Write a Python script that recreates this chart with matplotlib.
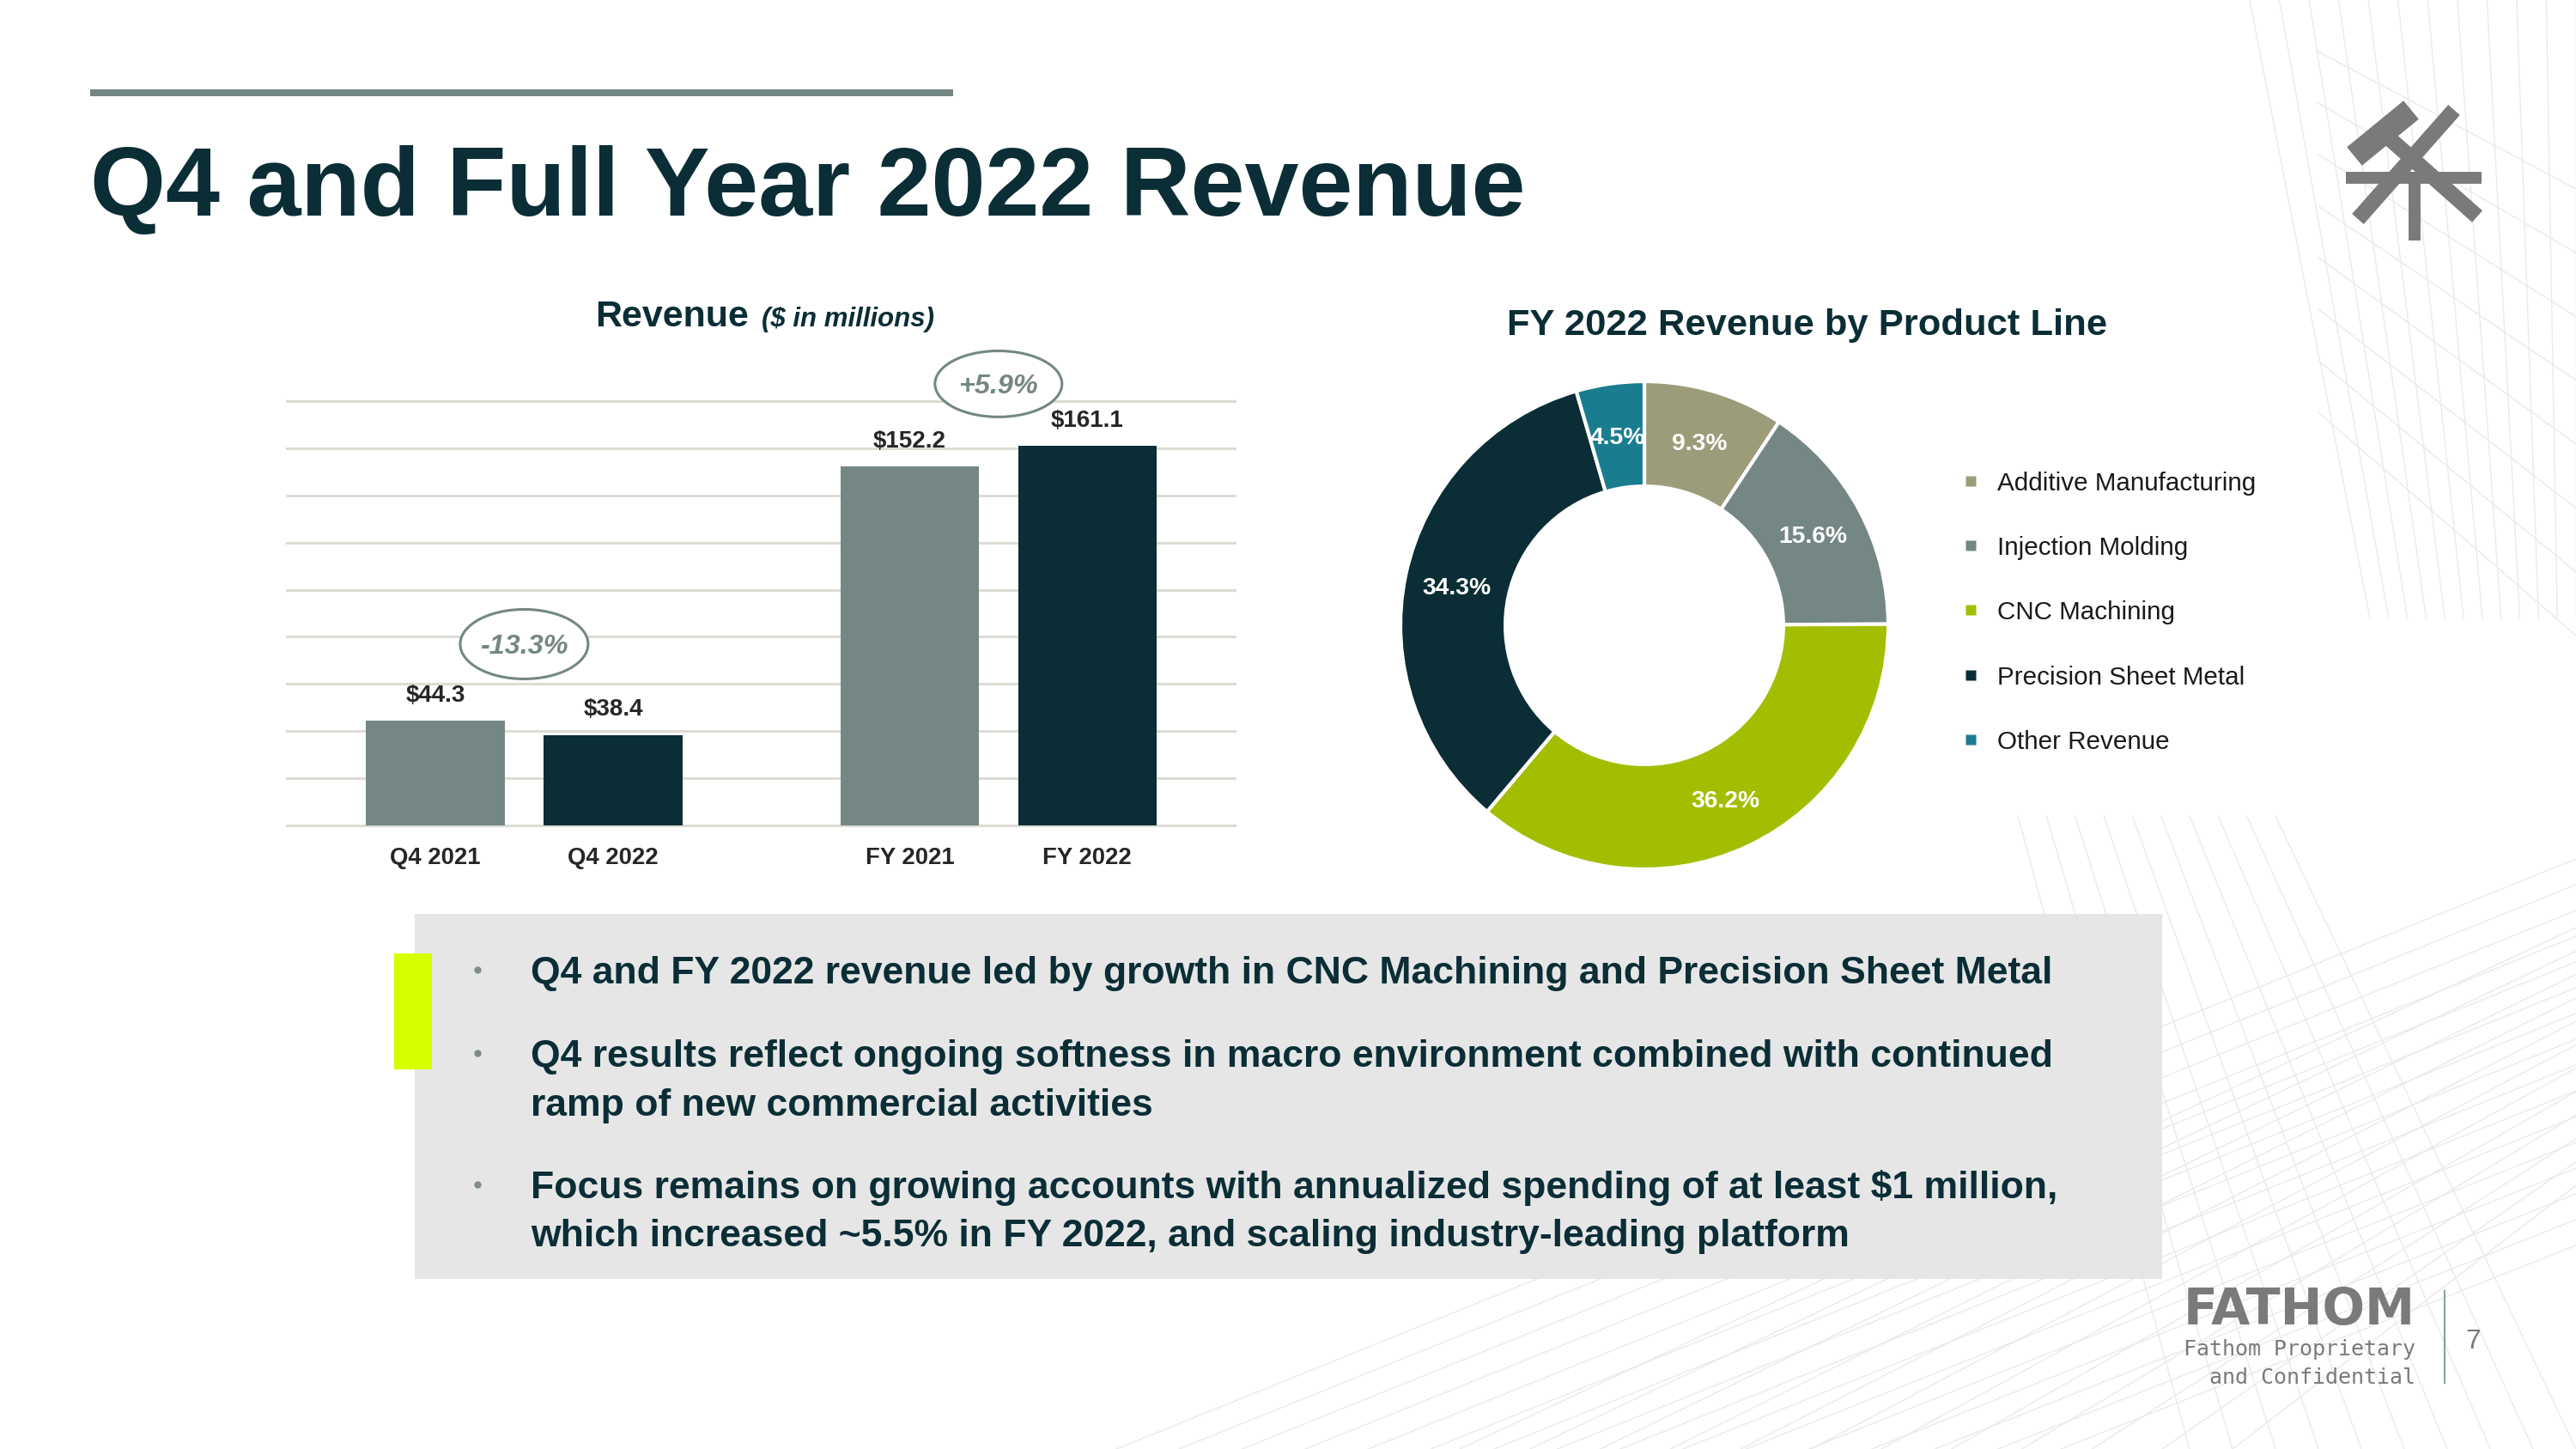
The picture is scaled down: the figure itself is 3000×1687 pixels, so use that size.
import numpy as np
import matplotlib
matplotlib.use("Agg")
import matplotlib.pyplot as plt
from matplotlib.patches import Rectangle, Ellipse

plt.rcParams['font.family'] = ['Liberation Sans', 'DejaVu Sans']

# ---------------- data ----------------
bar_categories = ["Q4 2021", "Q4 2022", "FY 2021", "FY 2022"]
bar_values = [44.3, 38.4, 152.2, 161.1]
bar_value_labels = ["$44.3", "$38.4", "$152.2", "$161.1"]
growth_labels = ["-13.3%", "+5.9%"]

product_lines = ["Additive Manufacturing", "Injection Molding", "CNC Machining",
                 "Precision Sheet Metal", "Other Revenue"]
product_shares = [9.3, 15.6, 36.2, 34.3, 4.5]

bullets = [
    ["Q4 and FY 2022 revenue led by growth in CNC Machining and Precision Sheet Metal"],
    ["Q4 results reflect ongoing softness in macro environment combined with continued",
     "ramp of new commercial activities"],
    ["Focus remains on growing accounts with annualized spending of at least $1 million,",
     "which increased ~5.5% in FY 2022, and scaling industry-leading platform"],
]

# ---------------- style ----------------
DARK = '#0B2E36'
GRAY = '#748784'
bar_colors = [GRAY, DARK, GRAY, DARK]
pie_colors = ['#9C9C7A', '#748784', '#A3BE00', '#0B2E36', '#1A7D8F']
LABEL = '#262626'

W, H = 3000, 1687
PT = 100 / 72.0  # px per point

fig = plt.figure(figsize=(30, 16.87), dpi=100)
fig.patch.set_facecolor('white')

bg = fig.add_axes([0, 0, 1, 1])
bg.set_xlim(0, W)
bg.set_ylim(H, 0)
bg.axis('off')

# decorative faint wireframe lines
lc = '#EAEAEA'
for t in np.linspace(0, 1, 12):
    bg.plot([2620 + t * 380, 2760 + t * 240], [0, 720], color=lc, lw=1.0, zorder=0)
for t in np.linspace(0, 1, 8):
    bg.plot([2700, 3000], [60 + t * 420, 220 + t * 520], color=lc, lw=1.0, zorder=0)
for t in np.linspace(0, 1, 16):
    bg.plot([3000, 1300 + t * 1100], [1000 + t * 450, 1687], color=lc, lw=1.0, zorder=0)
for t in np.linspace(0, 1, 12):
    bg.plot([1700 + t * 900, 3000], [1687, 1080 + t * 300], color=lc, lw=1.0, zorder=0)
for t in np.linspace(0, 1, 10):
    bg.plot([2350 + t * 300, 2550 + t * 450], [950, 1687], color=lc, lw=1.0, zorder=0)

# title rule and title
bg.add_patch(Rectangle((105, 104), 1005, 8, fc=GRAY, ec='none', zorder=2))
bg.text(105, 251, "Q4 and Full Year 2022 Revenue", fontsize=81.5, fontweight='bold',
        color=DARK, ha='left', va='baseline', zorder=3)

# top-right tool logo (approximation)
lg = '#7A7A7A'
bg.plot([2770, 2885], [150, 252], color=lg, lw=13, solid_capstyle='butt', zorder=2)
bg.plot([2742, 2808], [182, 128], color=lg, lw=20, solid_capstyle='butt', zorder=2)
bg.plot([2858, 2746], [128, 255], color=lg, lw=13, solid_capstyle='butt', zorder=2)
bg.plot([2732, 2890], [207, 207], color=lg, lw=10, solid_capstyle='butt', zorder=2)
bg.plot([2812, 2812], [200, 280], color=lg, lw=10, solid_capstyle='butt', zorder=2)

# chart titles
bg.text(872, 380, "Revenue", fontsize=31, fontweight='bold', color=DARK,
        ha='right', va='baseline', zorder=3)
bg.text(887, 380, "($ in millions)", fontsize=22.5, fontweight='bold', style='italic',
        color=DARK, ha='left', va='baseline', zorder=3)
bg.text(2105, 390, "FY 2022 Revenue by Product Line", fontsize=31.3, fontweight='bold',
        color=DARK, ha='center', va='baseline', zorder=3)

# ---------------- bar chart ----------------
x_pos = [0, 1, 2.67, 3.67]
ax = fig.add_axes([334 / W, 1 - 961 / H, 1104 / W, 494 / H])
ax.patch.set_alpha(0)
ax.bar(x_pos, bar_values, width=0.78, color=bar_colors, zorder=3)
ax.set_xlim(-0.836, 4.50)
ax.set_ylim(0, 180)
ax.set_yticks(np.arange(0, 181, 20))
ax.yaxis.grid(True, color='#DCDCD4', lw=2.2)
for gl in ax.get_ygridlines():
    gl.set_clip_on(False)
ax.set_axisbelow(True)
ax.tick_params(left=False, labelleft=False, bottom=False, labelbottom=False)
for s in ax.spines.values():
    s.set_visible(False)

for x, v, lab, cat in zip(x_pos, bar_values, bar_value_labels, bar_categories):
    ax.annotate(lab, xy=(x, v), xytext=(0, 16), textcoords='offset points',
                ha='center', va='baseline', fontsize=20, fontweight='bold',
                color=LABEL, zorder=5, annotation_clip=False)
    ax.annotate(cat, xy=(x, 0), xytext=(0, -32.5), textcoords='offset points',
                ha='center', va='baseline', fontsize=19.8, fontweight='bold',
                color=LABEL, zorder=5, annotation_clip=False)

# growth ellipses
growth_pos = [((x_pos[0] + x_pos[1]) / 2, 76.9, 0.72, 29.5),
              ((x_pos[2] + x_pos[3]) / 2, 187.3, 0.715, 28.0)]
for (cx, cy, ew, eh), txt in zip(growth_pos, growth_labels):
    e = Ellipse((cx, cy), ew, eh, fc='white', ec=GRAY, lw=2.2, zorder=4, clip_on=False)
    ax.add_patch(e)
    ax.annotate(txt, xy=(cx, cy), xytext=(0, -0.358 * 23), textcoords='offset points',
                ha='center', va='baseline', fontsize=23.3, fontweight='bold',
                style='italic', color=GRAY, zorder=5, annotation_clip=False)

# ---------------- donut ----------------
cxp, cyp, R = 1915, 728, 284
pax = fig.add_axes([(cxp - R) / W, 1 - (cyp + R) / H, 2 * R / W, 2 * R / H])
wedges, _ = pax.pie(product_shares, colors=pie_colors, startangle=90, counterclock=False,
                    radius=1.0, wedgeprops=dict(width=0.43, edgecolor='white', linewidth=3))
for w in wedges:
    w.set_clip_on(False)
pax.set_xlim(-1, 1)
pax.set_ylim(-1, 1)
pax.set_aspect('equal')
pax.axis('off')
for w, val in zip(wedges, product_shares):
    ang = np.deg2rad((w.theta1 + w.theta2) / 2)
    pax.annotate(f"{val:.1f}%", xy=(0.785 * np.cos(ang), 0.785 * np.sin(ang)),
                 xytext=(0, -0.358 * 20), textcoords='offset points',
                 ha='center', va='baseline', fontsize=20.3, fontweight='bold', color='white')

# legend
leg_rows = [560, 635, 710, 786, 861]
for name, col, y in zip(product_lines, pie_colors, leg_rows):
    bg.plot([2295], [y], marker='s', ms=8.5, color=col, mec='none', zorder=3)
    bg.text(2326, y + 0.358 * 21.3 * PT, name, fontsize=21.3, color='#1A1A1A',
            ha='left', va='baseline', zorder=3)

# ---------------- bullet box ----------------
bg.add_patch(Rectangle((483, 1064), 2035, 425, fc='#E4E4E4', ec='none', alpha=0.9, zorder=2))
bg.add_patch(Rectangle((459, 1110), 44, 135, fc='#D7FF00', ec='none', zorder=3))
bullet_starts = [1145, 1242, 1395]
line_step = 56.5
bfs = 32
for start, lines in zip(bullet_starts, bullets):
    bg.plot([556], [start - 0.358 * bfs * PT], marker='o', ms=6, color='#7F8C8A',
            mec='none', zorder=4)
    for i, ln in enumerate(lines):
        bg.text(618, start + i * line_step, ln, fontsize=bfs, fontweight='bold',
                color=DARK, ha='left', va='baseline', zorder=4)

# ---------------- footer ----------------
fg = '#7A7A7A'
bg.text(2813, 1542, "FATHOM", fontsize=42, fontweight='bold', color=fg,
        family='DejaVu Sans', ha='right', va='baseline', zorder=3)
bg.text(2813, 1578, "Fathom Proprietary", fontsize=18, color=fg,
        family='DejaVu Sans Mono', ha='right', va='baseline', zorder=3)
bg.text(2813, 1611, "and Confidential", fontsize=18, color=fg,
        family='DejaVu Sans Mono', ha='right', va='baseline', zorder=3)
bg.plot([2847, 2847], [1503, 1610], color='#8FA39D', lw=1.6, zorder=3)
bg.text(2880, 1570, "7", fontsize=23, color=fg, ha='center', va='baseline', zorder=3)

fig.savefig("out.png", dpi=100, facecolor='white')
